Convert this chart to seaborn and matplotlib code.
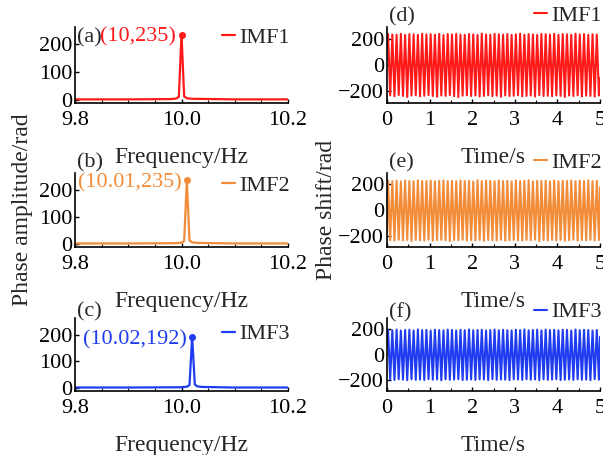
import numpy as np
import pandas as pd
import matplotlib
matplotlib.use("Agg")
import matplotlib.pyplot as plt
import seaborn as sns
from matplotlib.ticker import MultipleLocator

sns.set_theme(style="ticks")
plt.rcParams['font.family'] = ['Liberation Serif', 'DejaVu Serif']
plt.rcParams['mathtext.fontset'] = 'stix'

# ---------------- data ----------------
names = ["IMF1", "IMF2", "IMF3"]
colors = ["#ff1a1a", "#f28c38", "#1f3cf0"]
panel_left = ["(a)", "(b)", "(c)"]
panel_right = ["(d)", "(e)", "(f)"]

# spectra (frequency in Hz, phase amplitude in rad)
freq1 = [9.8, 9.9, 9.98, 9.99, 9.995, 10.0, 10.005, 10.01, 10.02, 10.1, 10.2]
amp1 = [3, 3, 4, 6, 12, 235, 14, 7, 5, 3, 3]
freq2 = [9.8, 9.9, 9.99, 10.0, 10.005, 10.01, 10.015, 10.02, 10.03, 10.1, 10.2]
amp2 = [3, 3, 4, 6, 12, 235, 14, 7, 5, 3, 3]
freq3 = [9.8, 9.9, 10.0, 10.01, 10.015, 10.02, 10.025, 10.03, 10.04, 10.1, 10.2]
amp3 = [3, 3, 4, 6, 12, 192, 14, 7, 5, 3, 3]
peak_f = [10.0, 10.01, 10.02]
peak_a = [235, 235, 192]

# time signals: start value, per-cycle maxima, per-cycle minima, end value
start_vals = [150, -180, 60]
end_vals = [-100, 180, 140]
max1 = [236, 233, 231, 238, 229, 236, 234, 230, 239, 233,
        235, 231, 237, 229, 236, 233, 238, 232, 230, 236,
        234, 229, 240, 233, 231, 238, 235, 232, 236, 230,
        234, 239, 231, 236, 233, 229, 237, 235, 232, 238,
        230, 236, 234, 231, 239, 233, 236, 230, 235, 232]
min1 = [-232, -238, -229, -236, -244, -233, -231, -239, -235, -230,
        -237, -242, -233, -236, -230, -238, -245, -234, -231, -237,
        -233, -240, -236, -230, -238, -234, -243, -232, -237, -235,
        -231, -239, -236, -233, -241, -230, -237, -235, -238, -232,
        -236, -244, -233, -237, -231, -239, -234, -236, -241, -233]
max2 = [232, 226, 229, 224, 231, 227, 225, 233, 228, 226,
        230, 224, 229, 232, 226, 228, 225, 231, 227, 229,
        224, 233, 226, 230, 228, 225, 232, 227, 229, 224,
        231, 226, 228, 233, 225, 229, 227, 230, 224, 232,
        226, 229, 228, 231, 225, 230, 227, 233, 226, 229]
min2 = [-236, -240, -233, -238, -235, -242, -234, -237, -239, -233,
        -241, -236, -234, -238, -243, -235, -237, -233, -240, -236,
        -238, -234, -242, -235, -237, -239, -233, -241, -236, -234,
        -238, -240, -235, -237, -233, -242, -236, -239, -234, -238,
        -235, -241, -237, -233, -240, -236, -238, -234, -239, -236]
max3 = [196, 192, 198, 190, 195, 197, 191, 199, 193, 196,
        190, 197, 194, 192, 198, 195, 191, 196, 193, 199,
        192, 195, 197, 190, 194, 198, 192, 196, 193, 191,
        197, 194, 199, 192, 195, 197, 191, 198, 194, 196,
        192, 197, 195, 190, 198, 193, 196, 194, 191, 195]
min3 = [-198, -202, -196, -200, -204, -197, -201, -199, -203, -196,
        -200, -198, -205, -197, -201, -199, -196, -203, -200, -198,
        -202, -197, -199, -204, -196, -201, -198, -200, -203, -197,
        -199, -202, -196, -200, -198, -204, -197, -201, -199, -196,
        -203, -200, -198, -202, -197, -201, -199, -204, -196, -200]
signal_freq = 10.0  # Hz
t_end = 5.0

freq_list = [freq1, freq2, freq3]
amp_list = [amp1, amp2, amp3]
max_list = [max1, max2, max3]
min_list = [min1, min2, min3]

# ---------------- layout ----------------
W, H = 603, 455
fig = plt.figure(figsize=(W / 100, H / 100), dpi=100)

rows_px = [(27, 103), (173, 247), (318, 391)]
left_px = (75, 288)
right_px = (387, 600)


def add_ax(xpx, ypx):
    x0, x1 = xpx
    y0, y1 = ypx
    return fig.add_axes([x0 / W, 1 - y1 / H, (x1 - x0) / W, (y1 - y0) / H])


FS = 16
left_legend_y = [1.0, 0.97, 0.92]
right_legend_y = [1.29, 1.28, 1.22]
left_label_y = [0.855, 1.135, 1.08]
right_label_y = [1.13, 1.135, 1.07]


def style(ax):
    sns.despine(ax=ax)
    ax.tick_params(axis='both', which='major', direction='in', length=3,
                   width=1, labelsize=FS, colors='black')
    ax.tick_params(axis='x', which='major', pad=6)
    ax.tick_params(axis='y', which='major', pad=2)
    ax.tick_params(axis='both', which='minor', direction='in', length=2,
                   width=0.8, colors='black')
    for s in ['left', 'bottom']:
        ax.spines[s].set_linewidth(1.2)
        ax.spines[s].set_color('black')


for i in range(3):
    # ---- spectrum ----
    ax = add_ax(left_px, rows_px[i])
    df = pd.DataFrame({"f": freq_list[i], "a": amp_list[i]})
    sns.lineplot(data=df, x="f", y="a", ax=ax, color=colors[i], lw=1.6,
                 estimator=None, sort=False, label=names[i])
    ax.plot([peak_f[i]], [peak_a[i]], 'o', color=colors[i], ms=4)
    ax.annotate(f"({peak_f[i]:g},{peak_a[i]})", (peak_f[i], peak_a[i]),
                xytext=(-4, -2), textcoords='offset points', ha='right',
                va='center', color=colors[i], fontsize=FS)
    ax.set_xlim(9.8, 10.2)
    ax.set_ylim(-10, 262)
    ax.set_xticks([9.8, 10.0, 10.2])
    ax.set_xticklabels(["9.8", "10.0", "10.2"])
    ax.set_yticks([0, 100, 200])
    ax.xaxis.set_minor_locator(MultipleLocator(0.05))
    ax.set_xlabel("Frequency/Hz", fontsize=FS + 1, labelpad=12)
    ax.set_ylabel("")
    style(ax)
    ax.legend(loc='upper right', bbox_to_anchor=(1.01, left_legend_y[i]),
              frameon=False, fontsize=FS, handlelength=0.6,
              handletextpad=0.2, borderpad=0, borderaxespad=0)
    ax.text(0.01, left_label_y[i], panel_left[i], transform=ax.transAxes,
            fontsize=FS, va='center', ha='left')

    # ---- time signal ----
    ax2 = add_ax(right_px, rows_px[i])
    n = len(max_list[i])
    period = 1.0 / signal_freq
    t_pts = [0.0]
    v_pts = [start_vals[i]]
    for k in range(n):
        t_pts += [k * period + period / 4, k * period + 3 * period / 4]
        v_pts += [max_list[i][k], min_list[i][k]]
    t_pts.append(t_end)
    v_pts.append(end_vals[i])
    ts = pd.DataFrame({"t": t_pts, "v": v_pts})
    sns.lineplot(data=ts, x="t", y="v", ax=ax2, color=colors[i], lw=1.5,
                 estimator=None, sort=False, label=names[i])
    ax2.set_xlim(0, 5)
    ax2.set_ylim(-290, 290)
    ax2.set_xticks([0, 1, 2, 3, 4, 5])
    ax2.set_yticks([-200, 0, 200])
    ax2.xaxis.set_minor_locator(MultipleLocator(0.5))
    ax2.set_xlabel("Time/s", fontsize=FS + 1, labelpad=12)
    ax2.set_ylabel("")
    style(ax2)
    ax2.legend(loc='upper right', bbox_to_anchor=(1.01, right_legend_y[i]),
               frameon=False, fontsize=FS, handlelength=0.6,
               handletextpad=0.2, borderpad=0, borderaxespad=0)
    ax2.text(0.01, right_label_y[i], panel_right[i], transform=ax2.transAxes,
             fontsize=FS, va='center', ha='left')

fig.text(23 / W, 1 - 210 / H, "Phase amplitude/rad", rotation=90,
         fontsize=FS + 1, ha='center', va='center')
fig.text(327 / W, 1 - 210 / H, "Phase shift/rad", rotation=90,
         fontsize=FS + 1, ha='center', va='center')

fig.savefig("out.png", dpi=100)
